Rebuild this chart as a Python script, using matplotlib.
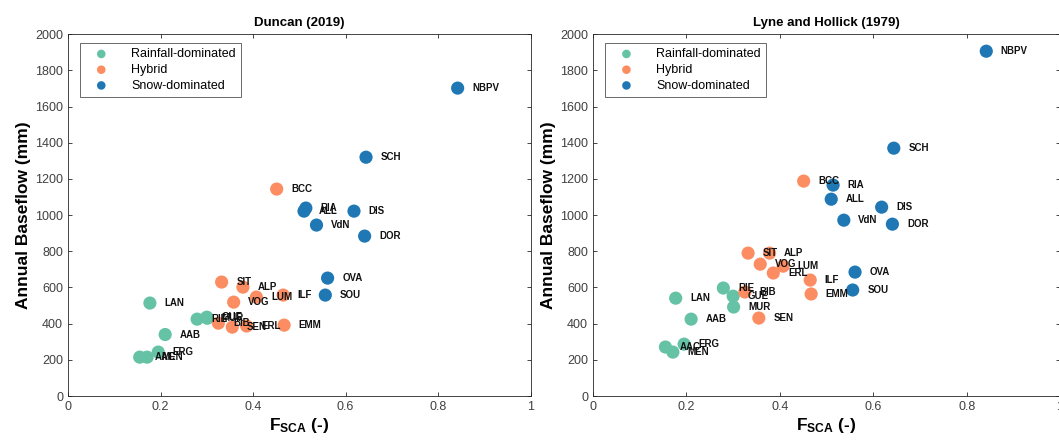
import matplotlib
matplotlib.use("Agg")
import matplotlib.pyplot as plt

plt.rcParams['font.family'] = ['Liberation Sans', 'DejaVu Sans']
plt.rcParams['mathtext.fontset'] = 'custom'
plt.rcParams['mathtext.rm'] = 'Liberation Sans:bold'
plt.rcParams['mathtext.it'] = 'Liberation Sans:bold'
plt.rcParams['mathtext.bf'] = 'Liberation Sans:bold'

# catchments, grouped by regime
rain_sites = ['LAN', 'AAB', 'RIE', 'GUE', 'MUR', 'AAC', 'MEN', 'ERG']
rain_fsca = [0.177, 0.210, 0.279, 0.300, 0.301, 0.155, 0.171, 0.195]
rain_duncan = [514, 340, 425, 436, 430, 215, 215, 243]
rain_lyne = [541, 425, 597, 552, 492, 271, 243, 287]

hyb_sites = ['BCC', 'SIT', 'ALP', 'VOG', 'LUM', 'ILF', 'EMM', 'ERL', 'SEN', 'BIB']
hyb_fsca = [0.451, 0.332, 0.378, 0.358, 0.407, 0.465, 0.467, 0.386, 0.355, 0.325]
hyb_duncan = [1144, 630, 602, 519, 547, 558, 392, 387, 381, 403]
hyb_lyne = [1188, 790, 790, 729, 718, 641, 564, 680, 431, 575]

snow_sites = ['NBPV', 'SCH', 'RIA', 'ALL', 'DIS', 'VdN', 'DOR', 'OVA', 'SOU']
snow_fsca = [0.842, 0.644, 0.514, 0.510, 0.618, 0.537, 0.641, 0.561, 0.556]
snow_duncan = [1702, 1320, 1039, 1022, 1022, 945, 884, 652, 558]
snow_lyne = [1906, 1370, 1166, 1088, 1044, 972, 950, 685, 586]

group_names = ['Rainfall-dominated', 'Hybrid', 'Snow-dominated']
group_colors = ['#66c2a5', '#fc8d62', '#1f78b4']

panels = [
    ('Duncan (2019)', [rain_duncan, hyb_duncan, snow_duncan]),
    ('Lyne and Hollick (1979)', [rain_lyne, hyb_lyne, snow_lyne]),
]
sites = [rain_sites, hyb_sites, snow_sites]
fscas = [rain_fsca, hyb_fsca, snow_fsca]

fig = plt.figure(figsize=(10.59, 4.44), dpi=100)
axes = [fig.add_axes([0.0642, 0.108, 0.437, 0.815]),
        fig.add_axes([0.560, 0.108, 0.441, 0.815])]

grey = '#262626'
for ax, (title, flows) in zip(axes, panels):
    for name, col, xs, ys, labs in zip(group_names, group_colors, fscas, flows, sites):
        ax.scatter(xs, ys, s=90, color=col, edgecolors='none', label=name, zorder=2)
        for x, y, lab in zip(xs, ys, labs):
            ax.annotate(lab, (x, y), xytext=(10.5, 0), textcoords='offset points',
                        ha='left', va='center', fontsize=7, fontweight='bold',
                        color='#111111', zorder=3)
    ax.set_xlim(0, 1)
    ax.set_ylim(0, 2000)
    ax.set_xticks([0, 0.2, 0.4, 0.6, 0.8, 1])
    ax.set_xticklabels(['0', '0.2', '0.4', '0.6', '0.8', '1'])
    ax.set_yticks(range(0, 2001, 200))
    ax.tick_params(direction='in', top=True, right=True, labelsize=9,
                   colors=grey, labelcolor='#404040', length=3, width=0.6)
    for sp in ax.spines.values():
        sp.set_color(grey)
        sp.set_linewidth(0.6)
    ax.set_title(title, fontsize=9.5, fontweight='bold', pad=6)
    ax.set_xlabel(r'F$_{\mathbf{SCA}}$ (-)', fontsize=12.5, fontweight='bold', labelpad=2)
    ax.set_ylabel('Annual Baseflow (mm)', fontsize=12.5, fontweight='bold', labelpad=3)
    leg = ax.legend(loc='upper left', bbox_to_anchor=(0.026, 0.975), borderaxespad=0,
                    fontsize=9, frameon=True, fancybox=False, scatterpoints=1,
                    markerscale=0.65, handlelength=2.6, handletextpad=1.1,
                    borderpad=0.4, labelspacing=0.3)
    leg.get_frame().set_edgecolor(grey)
    leg.get_frame().set_linewidth(0.6)

fig.savefig('out.png', dpi=100)
